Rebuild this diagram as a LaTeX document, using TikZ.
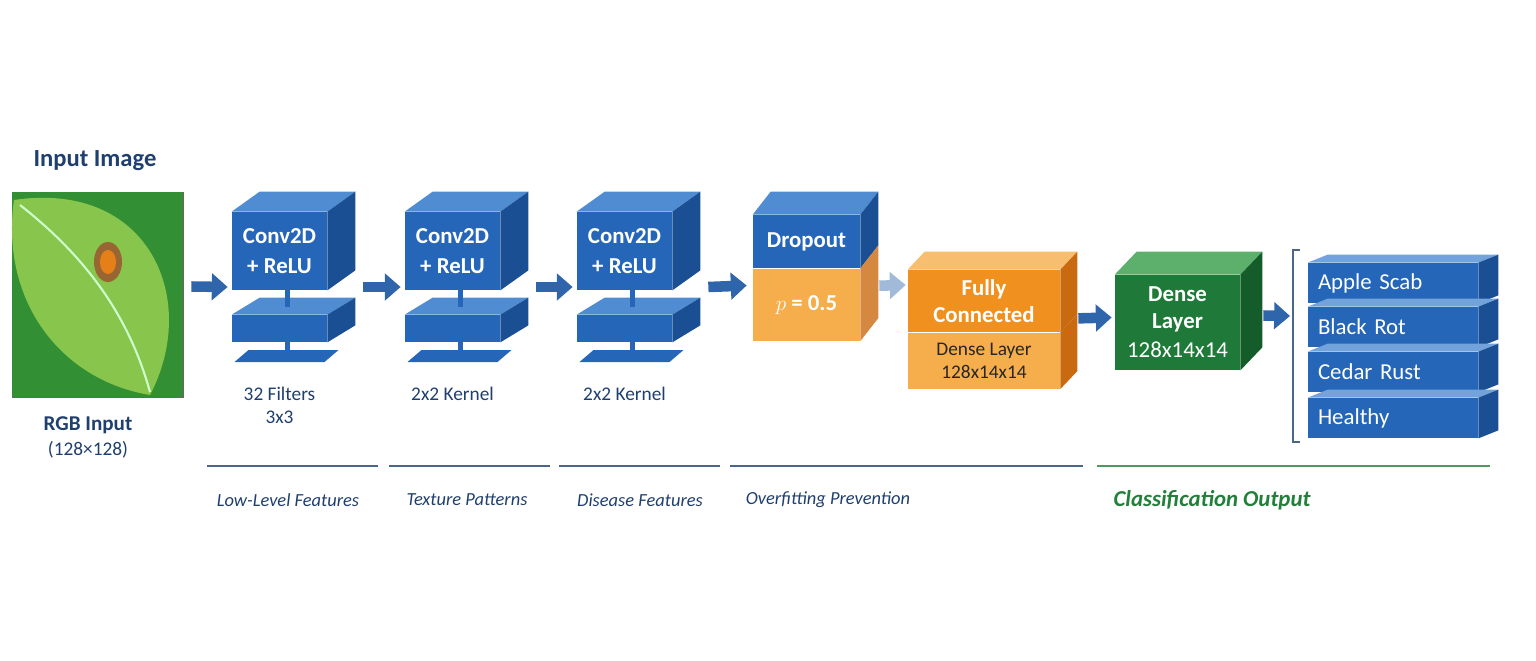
\documentclass[tikz,border=0pt]{standalone}
\usepackage{fontspec}
\setmainfont{Carlito}
\usetikzlibrary{calc, positioning, arrows.meta}

\definecolor{cnnblue}{HTML}{2566B8}
\definecolor{cnntop}{HTML}{4F8CD2}
\definecolor{cnnside}{HTML}{1A4F93}
\definecolor{navy}{HTML}{1F3F6E}
\definecolor{fcorange}{HTML}{F0901E}
\definecolor{fclight}{HTML}{F6AE4C}
\definecolor{fctop}{HTML}{F8BE70}
\definecolor{fcside}{HTML}{C96A10}
\definecolor{dgreen}{HTML}{1F7A3A}
\definecolor{dgtop}{HTML}{5DB06C}
\definecolor{dgside}{HTML}{145C2A}
\definecolor{capgreen}{HTML}{23803A}
\definecolor{arrowblue}{HTML}{2F65AA}

\tikzset{
    face/.style={draw=none, inner sep=0pt, align=center, text=white, font=\bfseries\fontsize{13}{15}\selectfont},
    flow/.style={-{Triangle[length=9pt,width=15pt]}, line width=6pt, draw=arrowblue},
    note/.style={text=navy, font=\fontsize{11}{13}\selectfont, align=center},
    group/.style={text=navy, font=\itshape\fontsize{10.5}{12}\selectfont},
    rule/.style={draw=navy!70, line width=0.6pt},
    stem/.style={draw=cnnblue, line width=3pt}
}

% top and side of a box on front node #1, depth (#2,#3)
\newcommand\topface[4]{\fill[#4] (#1.north west) -- ++(#2,-#3) -- ($(#1.north east)+(#2,-#3)$) -- (#1.north east) -- cycle;}
\newcommand\sideface[4]{\fill[#4] (#1.north east) -- ++(#2,-#3) -- ($(#1.south east)+(#2,-#3)$) -- (#1.south east) -- cycle;}

\begin{document}
\begin{tikzpicture}[x=0.02cm, y=-0.02cm]
    \useasboundingbox (0,0) rectangle (1536,660);

    % input image
    \node[text=navy, font=\bfseries\fontsize{14}{16}\selectfont] (intitle) at (95,161) {Input Image};
    \node[draw=black!60, fill=green!25!black, minimum width=171*0.02cm, minimum height=205*0.02cm, inner sep=0pt] (img) at (97.5,294.5) {};
    \begin{scope}
        \clip (img.south west) rectangle (img.north east);
        \fill[green!45!black!80] (img.south west) rectangle (img.north east);
        \fill[green!35!olive!70] (14,200) .. controls (150,180) and (200,300) .. (150,395) .. controls (60,380) and (0,300) .. (14,200) -- cycle;
        \draw[green!20!white, line width=1.2pt] (20,205) .. controls (90,260) and (130,320) .. (150,392);
        \fill[brown!80!black] (108,262) ellipse (14 and 20);
        \fill[orange!60!brown] (108,262) ellipse (8 and 12);
    \end{scope}
    \node[note, font=\bfseries\fontsize{12}{14}\selectfont] (rgb) at (88,425) {RGB Input};
    \node[note] (rgbsize) at (88,450) {(128×128)};

    % conv blocks
    \foreach \n/\x in {1/279.5, 2/452.5, 3/624.5} {
        \node[face, fill=cnnblue, minimum width=95*0.02cm, minimum height=78*0.02cm] (conv\n) at (\x,251) {Conv2D\\[2pt]+ ReLU};
        \topface{conv\n}{28}{20}{cnntop}
        \sideface{conv\n}{28}{20}{cnnside}
        \node[fill=cnnblue, inner sep=0pt, minimum width=95*0.02cm, minimum height=27*0.02cm] (pool\n) at (\x,328.5) {};
        \topface{pool\n}{28}{17}{cnntop}
        \sideface{pool\n}{28}{17}{cnnside}
        \coordinate (plate\n) at (\x,356);
        \fill[cnnblue] ($(plate\n)+(-45,6)$) -- ++(90,0) -- ++(14,-12) -- ++(-90,0) -- cycle;
        \draw[stem] ($(conv\n.south)+(8,0)$) -- ($(pool\n.north)+(8,-8)$);
        \draw[stem] ($(pool\n.south)+(8,0)$) -- ($(plate\n)+(8,0)$);
    }
    \node[note, below=22pt of pool1] (conv1note) {32 Filters\\3x3};
    \node[note, below=22pt of pool2.south, anchor=north] (conv2note) {2x2 Kernel};
    \node[note, below=22pt of pool3.south, anchor=north] (conv3note) {2x2 Kernel};

    % dropout
    \node[face, fill=cnnblue, minimum width=107*0.02cm, minimum height=53*0.02cm] (drop) at (806.5,241.5) {Dropout};
    \node[face, fill=fclight, minimum width=107*0.02cm, minimum height=72*0.02cm, font=\bfseries\fontsize{13}{15}\selectfont, below=0pt of drop] (dropp) {$p$ = 0.5};
    \topface{drop}{18}{23}{cnntop}
    \sideface{drop}{18}{23}{cnnside}
    \sideface{dropp}{18}{23}{fcside!80}

    % fully connected
    \node[face, fill=fcorange, minimum width=152*0.02cm, minimum height=62*0.02cm] (fc) at (984,301) {Fully\\Connected};
    \node[face, fill=fclight, minimum width=152*0.02cm, minimum height=56*0.02cm, text=black!85, font=\fontsize{11}{13}\selectfont, below=0pt of fc] (fcdense) {Dense Layer\\128x14x14};
    \topface{fc}{17}{18}{fctop}
    \sideface{fc}{17}{18}{fcside}
    \sideface{fcdense}{17}{18}{fcside}

    % dense layer
    \node[face, fill=dgreen, minimum width=125*0.02cm, minimum height=95*0.02cm] (dense) at (1177.5,322.5) {Dense\\Layer\\[2pt]{\mdseries 128x14x14}};
    \topface{dense}{22}{23}{dgtop}
    \sideface{dense}{22}{23}{dgside}

    % classes
    \foreach \n/\y/\t in {1/283/Apple Scab, 2/327/Black Rot, 3/372/Cedar Rust, 4/418/Healthy} {
        \node[face, fill=cnnblue, minimum width=170*0.02cm, minimum height=40*0.02cm, text width=150*0.02cm, align=left, font=\fontsize{13}{15}\selectfont] (cls\n) at (1393,\y) {\t};
        \topface{cls\n}{20}{8}{cnntop!80}
        \sideface{cls\n}{20}{8}{cnnside}
    }
    \coordinate (brtop) at (1300,250);
    \coordinate (brbot) at (1300,442);
    \draw[navy!80, line width=0.8pt] (brtop) -- ++(-7,0) -- ($(brbot)+(-7,0)$) -- (brbot);

    % arrows
    \draw[flow] ($(img.east)+(8,-8)$) -- ($(conv1.west)+(-4,36)$);
    \draw[flow] ($(conv1.east)+(36,36)$) -- ($(conv2.west)+(-4,36)$);
    \draw[flow] ($(conv2.east)+(36,36)$) -- ($(conv3.west)+(-4,36)$);
    \draw[flow] ($(conv3.east)+(36,36)$) -- ($(drop.west)+(-6,44)$);
    \draw[flow, draw=arrowblue!45] ($(dropp.east)+(19,-19)$) -- ($(fc.west)+(-2,-16)$);
    \draw[flow] ($(fcdense.north east)+(18,-14)$) -- ($(dense.west)+(-3,-5)$);
    \draw[flow] ($(dense.east)+(23,-7)$) -- ($(brtop)+(-10,66)$);

    % group rules
    \foreach \a/\b/\c in {207/378/navy, 389/550/navy, 559/720/navy, 730/1083/navy, 1097/1490/capgreen}
        \draw[rule, draw=\c!80] (\a,466) -- (\b,466);
    \node[group] (g1) at (288,500) {Low-Level Features};
    \node[group] (g2) at (467,500) {Texture Patterns};
    \node[group] (g3) at (640,500) {Disease Features};
    \node[group] (g4) at (828,500) {Overfitting Prevention};
    \node[group, text=capgreen, font=\bfseries\itshape\fontsize{13}{15}\selectfont] (g5) at (1212,500) {Classification Output};

\end{tikzpicture}
\end{document}
